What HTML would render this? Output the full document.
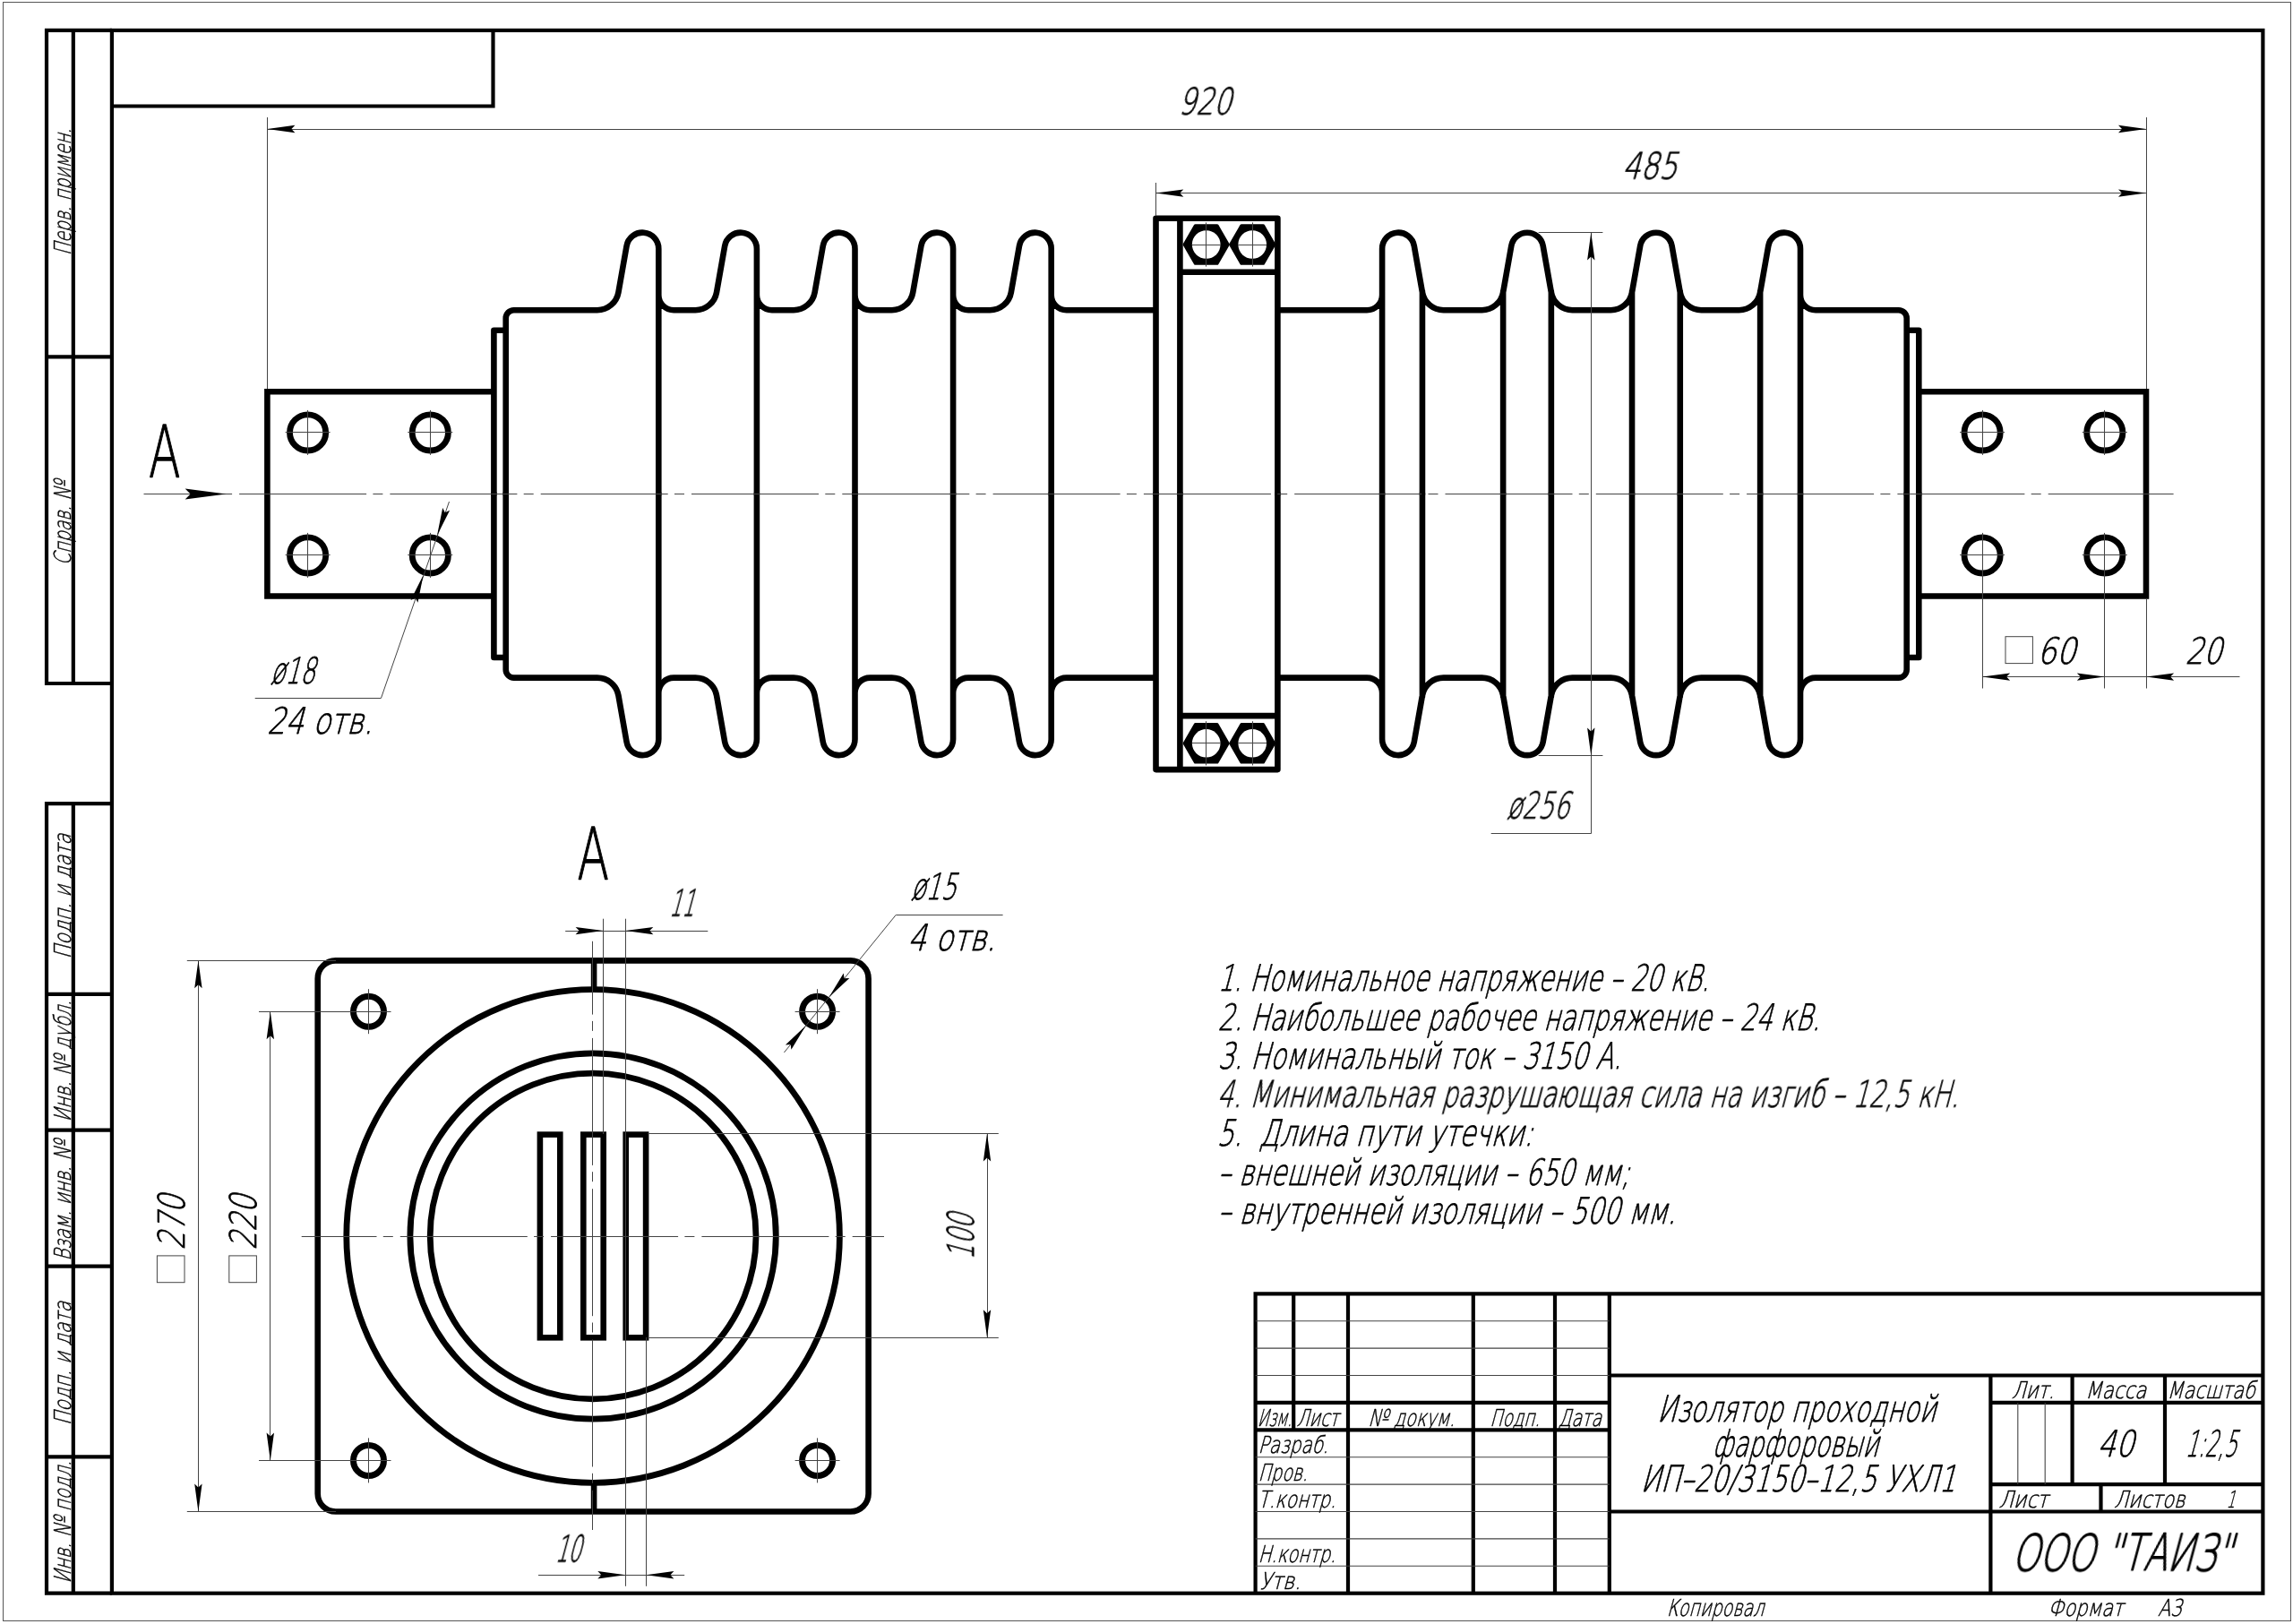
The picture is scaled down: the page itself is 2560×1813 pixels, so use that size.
<!DOCTYPE html>
<html lang="ru"><head><meta charset="utf-8"><title>Изолятор проходной фарфоровый ИП-20/3150-12,5 УХЛ1</title>
<style>
html,body{margin:0;padding:0;background:#fff;}
body{width:2560px;height:1813px;overflow:hidden;}
svg{display:block;}
text{font-family:"DejaVu Sans Light","DejaVu Sans","Liberation Sans",sans-serif;font-weight:200;fill:#000;white-space:pre;}
</style></head><body>
<svg width="2560" height="1813" viewBox="0 0 2560 1813">
<rect width="2560" height="1813" fill="#fff"/>
<rect x="3.5" y="2.5" width="2554.0" height="1807.0" fill="none" stroke="#555" stroke-width="1"/>
<rect x="124.9" y="33.9" width="2401.5" height="1744.8" fill="none" stroke="#000" stroke-width="4.2"/>
<path d="M124.9,33.9 H52 V763 H124.9 M81.8,33.9 V763 M52,398.4 H124.9" fill="none" stroke="#000" stroke-width="4.2" stroke-linecap="butt" stroke-linejoin="miter"/>
<path d="M124.9,897.2 H52 V1778.7 H124.9 M81.8,897.2 V1778.7 M52,1109.8 H124.9 M52,1261.6 H124.9 M52,1413.6 H124.9 M52,1626.4 H124.9" fill="none" stroke="#000" stroke-width="4.2" stroke-linecap="butt" stroke-linejoin="miter"/>
<path d="M124.9,118.5 H550.5 V33.9" fill="none" stroke="#000" stroke-width="4.2" stroke-linecap="butt" stroke-linejoin="miter"/>
<path d="M1401.6,1778.7 V1444.3 H2526.4 M1444.2,1444.3 V1596.3 M1505.0,1444.3 V1778.7 M1644.8,1444.3 V1778.7 M1736.0,1444.3 V1778.7 M1796.8,1444.3 V1778.7 M2222.4,1535.5 V1778.7 M1401.6,1565.9 H1796.8 M1401.6,1596.3 H1796.8 M1796.8,1535.5 H2526.4 M1796.8,1687.5 H2526.4 M2222.4,1565.9 H2526.4 M2222.4,1657.1 H2526.4 M2313.6,1535.5 V1657.1 M2417.0,1535.5 V1657.1 M2345.5,1657.1 V1687.5" fill="none" stroke="#000" stroke-width="4.2" stroke-linecap="butt" stroke-linejoin="miter"/>
<path d="M1401.6,1474.7 H1796.8 M1401.6,1505.1 H1796.8 M1401.6,1535.5 H1796.8 M1401.6,1626.7 H1796.8 M1401.6,1657.1 H1796.8 M1401.6,1687.5 H1796.8 M1401.6,1717.9 H1796.8 M1401.6,1748.3 H1796.8 M2252.8,1565.9 V1657.1 M2283.2,1565.9 V1657.1" fill="none" stroke="#444" stroke-width="1.1"/>
<path d="M564.7,551.4 V355.2 A9,9 0 0 1 573.7,346.2 H666.81 A24.0,24.0 0 0 0 690.44,326.37 L699.57,274.57 A18.0,18.0 0 0 1 735.30,277.7 V329.20 A17.0,17.0 0 0 0 752.30,346.2 H776.41 A24.0,24.0 0 0 0 800.04,326.37 L809.17,274.57 A18.0,18.0 0 0 1 844.90,277.7 V329.20 A17.0,17.0 0 0 0 861.90,346.2 H886.01 A24.0,24.0 0 0 0 909.64,326.37 L918.77,274.57 A18.0,18.0 0 0 1 954.50,277.7 V329.20 A17.0,17.0 0 0 0 971.50,346.2 H995.61 A24.0,24.0 0 0 0 1019.24,326.37 L1028.37,274.57 A18.0,18.0 0 0 1 1064.10,277.7 V329.20 A17.0,17.0 0 0 0 1081.10,346.2 H1105.21 A24.0,24.0 0 0 0 1128.84,326.37 L1137.97,274.57 A18.0,18.0 0 0 1 1173.70,277.7 V329.20 A17.0,17.0 0 0 0 1190.70,346.2 H1290.5 M1426.4,346.2 H1526.10 A17.0,17.0 0 0 0 1543.10,329.20 V277.7 A18.0,18.0 0 0 1 1578.83,274.57 L1587.96,326.37 A24.0,24.0 0 0 0 1611.59,346.2 H1654.51 A24.0,24.0 0 0 0 1678.14,326.37 L1687.27,274.57 A18.0,18.0 0 0 1 1722.73,274.57 L1731.86,326.37 A24.0,24.0 0 0 0 1755.49,346.2 H1798.41 A24.0,24.0 0 0 0 1822.04,326.37 L1831.17,274.57 A18.0,18.0 0 0 1 1866.63,274.57 L1875.76,326.37 A24.0,24.0 0 0 0 1899.39,346.2 H1941.51 A24.0,24.0 0 0 0 1965.14,326.37 L1974.27,274.57 A18.0,18.0 0 0 1 2010.00,277.7 V329.20 A17.0,17.0 0 0 0 2027.00,346.2 H2119.7 A9,9 0 0 1 2128.7,355.2 V551.4 M735.30,277.7 V551.4 M844.90,277.7 V551.4 M954.50,277.7 V551.4 M1064.10,277.7 V551.4 M1173.70,277.7 V551.4 M1543.10,325.37 V551.4 M1587.96,325.37 V551.4 M1678.14,325.37 V551.4 M1731.86,325.37 V551.4 M1822.04,325.37 V551.4 M1875.76,325.37 V551.4 M1965.14,325.37 V551.4 M2010.00,325.37 V551.4 M564.7,368.8 H551.4 V551.4 M2128.7,368.8 H2142.3 V551.4 M1290.5,551.4 V243.7 H1426.4 V551.4 M1317.4,243.7 V551.4 M1317.4,303.7 H1426.4 " fill="none" stroke="#000" stroke-width="6.6" stroke-linejoin="round" stroke-linecap="round" />
<g transform="translate(0,1102.8) scale(1,-1)">
<path d="M564.7,551.4 V355.2 A9,9 0 0 1 573.7,346.2 H666.81 A24.0,24.0 0 0 0 690.44,326.37 L699.57,274.57 A18.0,18.0 0 0 1 735.30,277.7 V329.20 A17.0,17.0 0 0 0 752.30,346.2 H776.41 A24.0,24.0 0 0 0 800.04,326.37 L809.17,274.57 A18.0,18.0 0 0 1 844.90,277.7 V329.20 A17.0,17.0 0 0 0 861.90,346.2 H886.01 A24.0,24.0 0 0 0 909.64,326.37 L918.77,274.57 A18.0,18.0 0 0 1 954.50,277.7 V329.20 A17.0,17.0 0 0 0 971.50,346.2 H995.61 A24.0,24.0 0 0 0 1019.24,326.37 L1028.37,274.57 A18.0,18.0 0 0 1 1064.10,277.7 V329.20 A17.0,17.0 0 0 0 1081.10,346.2 H1105.21 A24.0,24.0 0 0 0 1128.84,326.37 L1137.97,274.57 A18.0,18.0 0 0 1 1173.70,277.7 V329.20 A17.0,17.0 0 0 0 1190.70,346.2 H1290.5 M1426.4,346.2 H1526.10 A17.0,17.0 0 0 0 1543.10,329.20 V277.7 A18.0,18.0 0 0 1 1578.83,274.57 L1587.96,326.37 A24.0,24.0 0 0 0 1611.59,346.2 H1654.51 A24.0,24.0 0 0 0 1678.14,326.37 L1687.27,274.57 A18.0,18.0 0 0 1 1722.73,274.57 L1731.86,326.37 A24.0,24.0 0 0 0 1755.49,346.2 H1798.41 A24.0,24.0 0 0 0 1822.04,326.37 L1831.17,274.57 A18.0,18.0 0 0 1 1866.63,274.57 L1875.76,326.37 A24.0,24.0 0 0 0 1899.39,346.2 H1941.51 A24.0,24.0 0 0 0 1965.14,326.37 L1974.27,274.57 A18.0,18.0 0 0 1 2010.00,277.7 V329.20 A17.0,17.0 0 0 0 2027.00,346.2 H2119.7 A9,9 0 0 1 2128.7,355.2 V551.4 M735.30,277.7 V551.4 M844.90,277.7 V551.4 M954.50,277.7 V551.4 M1064.10,277.7 V551.4 M1173.70,277.7 V551.4 M1543.10,325.37 V551.4 M1587.96,325.37 V551.4 M1678.14,325.37 V551.4 M1731.86,325.37 V551.4 M1822.04,325.37 V551.4 M1875.76,325.37 V551.4 M1965.14,325.37 V551.4 M2010.00,325.37 V551.4 M564.7,368.8 H551.4 V551.4 M2128.7,368.8 H2142.3 V551.4 M1290.5,551.4 V243.7 H1426.4 V551.4 M1317.4,243.7 V551.4 M1317.4,303.7 H1426.4 " fill="none" stroke="#000" stroke-width="6.6" stroke-linejoin="round" stroke-linecap="round" />
</g>
<path d="M551.4,437.3 H298.4 V665.5 H551.4" fill="none" stroke="#000" stroke-width="6.6" stroke-linejoin="miter"/>
<path d="M2142.3,437.3 H2396 V665.5 H2142.3" fill="none" stroke="#000" stroke-width="6.6" stroke-linejoin="miter"/>
<circle cx="343.6" cy="482.9" r="20.1" fill="none" stroke="#000" stroke-width="6.8"/>
<line x1="318.6" y1="482.5" x2="368.6" y2="482.5" stroke="#444" stroke-width="1.0" />
<line x1="343.5" y1="457.9" x2="343.5" y2="507.9" stroke="#444" stroke-width="1.0" />
<circle cx="343.6" cy="619.9" r="20.1" fill="none" stroke="#000" stroke-width="6.8"/>
<line x1="318.6" y1="619.5" x2="368.6" y2="619.5" stroke="#444" stroke-width="1.0" />
<line x1="343.5" y1="594.9" x2="343.5" y2="644.9" stroke="#444" stroke-width="1.0" />
<circle cx="480.3" cy="482.9" r="20.1" fill="none" stroke="#000" stroke-width="6.8"/>
<line x1="455.3" y1="482.5" x2="505.3" y2="482.5" stroke="#444" stroke-width="1.0" />
<line x1="480.5" y1="457.9" x2="480.5" y2="507.9" stroke="#444" stroke-width="1.0" />
<circle cx="480.3" cy="619.9" r="20.1" fill="none" stroke="#000" stroke-width="6.8"/>
<line x1="455.3" y1="619.5" x2="505.3" y2="619.5" stroke="#444" stroke-width="1.0" />
<line x1="480.5" y1="594.9" x2="480.5" y2="644.9" stroke="#444" stroke-width="1.0" />
<circle cx="2213.1" cy="482.9" r="20.1" fill="none" stroke="#000" stroke-width="6.8"/>
<line x1="2188.1" y1="482.5" x2="2238.1" y2="482.5" stroke="#444" stroke-width="1.0" />
<line x1="2213.5" y1="457.9" x2="2213.5" y2="507.9" stroke="#444" stroke-width="1.0" />
<circle cx="2213.1" cy="619.9" r="20.1" fill="none" stroke="#000" stroke-width="6.8"/>
<line x1="2188.1" y1="619.5" x2="2238.1" y2="619.5" stroke="#444" stroke-width="1.0" />
<line x1="2213.5" y1="594.9" x2="2213.5" y2="644.9" stroke="#444" stroke-width="1.0" />
<circle cx="2349.8" cy="482.9" r="20.1" fill="none" stroke="#000" stroke-width="6.8"/>
<line x1="2324.8" y1="482.5" x2="2374.8" y2="482.5" stroke="#444" stroke-width="1.0" />
<line x1="2349.5" y1="457.9" x2="2349.5" y2="507.9" stroke="#444" stroke-width="1.0" />
<circle cx="2349.8" cy="619.9" r="20.1" fill="none" stroke="#000" stroke-width="6.8"/>
<line x1="2324.8" y1="619.5" x2="2374.8" y2="619.5" stroke="#444" stroke-width="1.0" />
<line x1="2349.5" y1="594.9" x2="2349.5" y2="644.9" stroke="#444" stroke-width="1.0" />
<polygon points="1370.9,273.0 1358.8,294.0 1334.6,294.0 1322.5,273.0 1334.6,252.0 1358.8,252.0" fill="#000" stroke="#000" stroke-width="3.6" stroke-linejoin="round"/>
<circle cx="1346.7" cy="273.0" r="15.8" fill="#fff" stroke="#000" stroke-width="0"/>
<line x1="1330.7" y1="273.5" x2="1362.7" y2="273.5" stroke="#444" stroke-width="1.0" />
<line x1="1346.5" y1="248.4" x2="1346.5" y2="297.6" stroke="#444" stroke-width="1.0" />
<polygon points="1422.4,273.0 1410.3,294.0 1386.1,294.0 1374.0,273.0 1386.1,252.0 1410.3,252.0" fill="#000" stroke="#000" stroke-width="3.6" stroke-linejoin="round"/>
<circle cx="1398.2" cy="273.0" r="15.8" fill="#fff" stroke="#000" stroke-width="0"/>
<line x1="1382.2" y1="273.5" x2="1414.2" y2="273.5" stroke="#444" stroke-width="1.0" />
<line x1="1398.5" y1="248.4" x2="1398.5" y2="297.6" stroke="#444" stroke-width="1.0" />
<polygon points="1370.9,829.8 1358.8,850.8 1334.6,850.8 1322.5,829.8 1334.6,808.8 1358.8,808.8" fill="#000" stroke="#000" stroke-width="3.6" stroke-linejoin="round"/>
<circle cx="1346.7" cy="829.8" r="15.8" fill="#fff" stroke="#000" stroke-width="0"/>
<line x1="1330.7" y1="829.5" x2="1362.7" y2="829.5" stroke="#444" stroke-width="1.0" />
<line x1="1346.5" y1="805.2" x2="1346.5" y2="854.4" stroke="#444" stroke-width="1.0" />
<polygon points="1422.4,829.8 1410.3,850.8 1386.1,850.8 1374.0,829.8 1386.1,808.8 1410.3,808.8" fill="#000" stroke="#000" stroke-width="3.6" stroke-linejoin="round"/>
<circle cx="1398.2" cy="829.8" r="15.8" fill="#fff" stroke="#000" stroke-width="0"/>
<line x1="1382.2" y1="829.5" x2="1414.2" y2="829.5" stroke="#444" stroke-width="1.0" />
<line x1="1398.5" y1="805.2" x2="1398.5" y2="854.4" stroke="#444" stroke-width="1.0" />
<line x1="160.5" y1="551.5" x2="2426.6" y2="551.5" stroke="#444" stroke-width="1.0" stroke-dasharray="142 7.3 11 8" stroke-dashoffset="61.7"/>
<polygon transform="translate(252.6,551.4) rotate(0.00)" points="0,0 -46,-6 -40,0 -46,6" fill="#000"/>
<line x1="298.5" y1="131.0" x2="298.5" y2="434.0" stroke="#444" stroke-width="1.0" />
<line x1="2396.5" y1="131.0" x2="2396.5" y2="434.0" stroke="#444" stroke-width="1.0" />
<line x1="298.4" y1="144.5" x2="2396.0" y2="144.5" stroke="#444" stroke-width="1.0" />
<polygon transform="translate(298.4,144.0) rotate(180.00)" points="0,0 -31,-4.2 -27,0 -31,4.2" fill="#000"/>
<polygon transform="translate(2396.0,144.0) rotate(0.00)" points="0,0 -31,-4.2 -27,0 -31,4.2" fill="#000"/>
<line x1="1290.5" y1="204.0" x2="1290.5" y2="241.0" stroke="#444" stroke-width="1.0" />
<line x1="1290.3" y1="215.5" x2="2396.0" y2="215.5" stroke="#444" stroke-width="1.0" />
<polygon transform="translate(1290.3,215.6) rotate(180.00)" points="0,0 -31,-4.2 -27,0 -31,4.2" fill="#000"/>
<polygon transform="translate(2396.0,215.6) rotate(0.00)" points="0,0 -31,-4.2 -27,0 -31,4.2" fill="#000"/>
<line x1="1717.7" y1="259.5" x2="1789.4" y2="259.5" stroke="#444" stroke-width="1.0" />
<line x1="1717.7" y1="843.5" x2="1789.4" y2="843.5" stroke="#444" stroke-width="1.0" />
<line x1="1776.5" y1="259.4" x2="1776.5" y2="930.7" stroke="#444" stroke-width="1.0" />
<line x1="1664.7" y1="930.5" x2="1776.3" y2="930.5" stroke="#444" stroke-width="1.0" />
<polygon transform="translate(1776.3,259.4) rotate(-90.00)" points="0,0 -31,-4.2 -27,0 -31,4.2" fill="#000"/>
<polygon transform="translate(1776.3,843.4) rotate(90.00)" points="0,0 -31,-4.2 -27,0 -31,4.2" fill="#000"/>
<line x1="2213.5" y1="595.0" x2="2213.5" y2="768.5" stroke="#444" stroke-width="1.0" />
<line x1="2349.5" y1="595.0" x2="2349.5" y2="768.5" stroke="#444" stroke-width="1.0" />
<line x1="2396.5" y1="668.0" x2="2396.5" y2="768.5" stroke="#444" stroke-width="1.0" />
<line x1="2213.1" y1="755.5" x2="2500.5" y2="755.5" stroke="#444" stroke-width="1.0" />
<polygon transform="translate(2213.1,755.6) rotate(180.00)" points="0,0 -31,-4.2 -27,0 -31,4.2" fill="#000"/>
<polygon transform="translate(2349.8,755.6) rotate(0.00)" points="0,0 -31,-4.2 -27,0 -31,4.2" fill="#000"/>
<polygon transform="translate(2396.1,755.6) rotate(180.00)" points="0,0 -31,-4.2 -27,0 -31,4.2" fill="#000"/>
<rect x="2239" y="710.7" width="30.4" height="29.9" fill="none" stroke="#444" stroke-width="1"/>
<line x1="284.7" y1="779.5" x2="425.6" y2="779.5" stroke="#444" stroke-width="1.0" />
<line x1="425.6" y1="779.0" x2="501.5" y2="560.0" stroke="#444" stroke-width="1.0" />
<polygon transform="translate(472.6,642.1) rotate(-70.89)" points="0,0 -31,-4.2 -27,0 -31,4.2" fill="#000"/>
<polygon transform="translate(488.0,597.7) rotate(109.11)" points="0,0 -31,-4.2 -27,0 -31,4.2" fill="#000"/>
<rect x="354.7" y="1072.4" width="614.9" height="615.1" rx="20" ry="20" fill="none" stroke="#000" stroke-width="6.6"/>
<circle cx="662.1" cy="1380.0" r="275.3" fill="none" stroke="#000" stroke-width="6.8"/>
<circle cx="662.1" cy="1380.0" r="204.2" fill="none" stroke="#000" stroke-width="6.8"/>
<circle cx="662.1" cy="1380.0" r="181.9" fill="none" stroke="#000" stroke-width="6.8"/>
<line x1="663.1" y1="1072.4" x2="663.1" y2="1104.7" stroke="#000" stroke-width="6.6" />
<line x1="663.1" y1="1687.5" x2="663.1" y2="1655.3" stroke="#000" stroke-width="6.6" />
<rect x="602.9" y="1266.6" width="22.4" height="226.7" fill="none" stroke="#000" stroke-width="6.6"/>
<rect x="651.3" y="1266.6" width="22.4" height="226.7" fill="none" stroke="#000" stroke-width="6.6"/>
<rect x="698.7" y="1266.6" width="22.4" height="226.7" fill="none" stroke="#000" stroke-width="6.6"/>
<circle cx="411.5" cy="1129.2" r="17.0" fill="none" stroke="#000" stroke-width="7"/>
<line x1="386.5" y1="1129.5" x2="436.5" y2="1129.5" stroke="#444" stroke-width="1.0" />
<line x1="411.5" y1="1104.2" x2="411.5" y2="1154.2" stroke="#444" stroke-width="1.0" />
<circle cx="411.5" cy="1630.4" r="17.0" fill="none" stroke="#000" stroke-width="7"/>
<line x1="386.5" y1="1630.5" x2="436.5" y2="1630.5" stroke="#444" stroke-width="1.0" />
<line x1="411.5" y1="1605.4" x2="411.5" y2="1655.4" stroke="#444" stroke-width="1.0" />
<circle cx="912.6" cy="1129.2" r="17.0" fill="none" stroke="#000" stroke-width="7"/>
<line x1="887.6" y1="1129.5" x2="937.6" y2="1129.5" stroke="#444" stroke-width="1.0" />
<line x1="912.5" y1="1104.2" x2="912.5" y2="1154.2" stroke="#444" stroke-width="1.0" />
<circle cx="912.6" cy="1630.4" r="17.0" fill="none" stroke="#000" stroke-width="7"/>
<line x1="887.6" y1="1630.5" x2="937.6" y2="1630.5" stroke="#444" stroke-width="1.0" />
<line x1="912.5" y1="1605.4" x2="912.5" y2="1655.4" stroke="#444" stroke-width="1.0" />
<line x1="336.7" y1="1380.5" x2="987.0" y2="1380.5" stroke="#444" stroke-width="1.0" stroke-dasharray="142 7.3 11 8" stroke-dashoffset="58.2"/>
<line x1="661.5" y1="1050.8" x2="661.5" y2="1708.0" stroke="#444" stroke-width="1.0" stroke-dasharray="142 7.3 11 8" stroke-dashoffset="60.2"/>
<line x1="208.8" y1="1072.5" x2="375.0" y2="1072.5" stroke="#444" stroke-width="1.0" />
<line x1="208.8" y1="1687.5" x2="375.0" y2="1687.5" stroke="#444" stroke-width="1.0" />
<line x1="221.5" y1="1072.2" x2="221.5" y2="1687.5" stroke="#444" stroke-width="1.0" />
<polygon transform="translate(221.4,1072.2) rotate(-90.00)" points="0,0 -31,-4.2 -27,0 -31,4.2" fill="#000"/>
<polygon transform="translate(221.4,1687.5) rotate(90.00)" points="0,0 -31,-4.2 -27,0 -31,4.2" fill="#000"/>
<line x1="289.0" y1="1129.5" x2="411.5" y2="1129.5" stroke="#444" stroke-width="1.0" />
<line x1="289.0" y1="1630.5" x2="411.5" y2="1630.5" stroke="#444" stroke-width="1.0" />
<line x1="301.5" y1="1129.2" x2="301.5" y2="1630.4" stroke="#444" stroke-width="1.0" />
<polygon transform="translate(301.8,1129.2) rotate(-90.00)" points="0,0 -31,-4.2 -27,0 -31,4.2" fill="#000"/>
<polygon transform="translate(301.8,1630.4) rotate(90.00)" points="0,0 -31,-4.2 -27,0 -31,4.2" fill="#000"/>
<rect x="175.4" y="1401.9" width="30.6" height="29.8" fill="none" stroke="#444" stroke-width="1"/>
<rect x="255.8" y="1401.9" width="30.6" height="29.8" fill="none" stroke="#444" stroke-width="1"/>
<line x1="723.3" y1="1265.5" x2="1114.8" y2="1265.5" stroke="#444" stroke-width="1.0" />
<line x1="723.3" y1="1493.5" x2="1114.8" y2="1493.5" stroke="#444" stroke-width="1.0" />
<line x1="1102.5" y1="1265.4" x2="1102.5" y2="1493.2" stroke="#444" stroke-width="1.0" />
<polygon transform="translate(1102.0,1265.4) rotate(-90.00)" points="0,0 -31,-4.2 -27,0 -31,4.2" fill="#000"/>
<polygon transform="translate(1102.0,1493.2) rotate(90.00)" points="0,0 -31,-4.2 -27,0 -31,4.2" fill="#000"/>
<line x1="673.5" y1="1025.7" x2="673.5" y2="1266.0" stroke="#444" stroke-width="1.0" />
<line x1="698.5" y1="1025.7" x2="698.5" y2="1770.8" stroke="#444" stroke-width="1.0" />
<line x1="631.2" y1="1039.5" x2="790.3" y2="1039.5" stroke="#444" stroke-width="1.0" />
<polygon transform="translate(673.6,1039.1) rotate(0.00)" points="0,0 -31,-4.2 -27,0 -31,4.2" fill="#000"/>
<polygon transform="translate(698.3,1039.1) rotate(180.00)" points="0,0 -31,-4.2 -27,0 -31,4.2" fill="#000"/>
<line x1="721.5" y1="1493.0" x2="721.5" y2="1770.8" stroke="#444" stroke-width="1.0" />
<line x1="601.0" y1="1758.5" x2="764.2" y2="1758.5" stroke="#444" stroke-width="1.0" />
<polygon transform="translate(698.3,1758.2) rotate(0.00)" points="0,0 -31,-4.2 -27,0 -31,4.2" fill="#000"/>
<polygon transform="translate(721.4,1758.2) rotate(180.00)" points="0,0 -31,-4.2 -27,0 -31,4.2" fill="#000"/>
<line x1="1000.4" y1="1021.5" x2="1119.6" y2="1021.5" stroke="#444" stroke-width="1.0" />
<line x1="1000.4" y1="1021.2" x2="875.4" y2="1175.0" stroke="#444" stroke-width="1.0" />
<polygon transform="translate(925.5,1113.3) rotate(129.10)" points="0,0 -31,-4.2 -27,0 -31,4.2" fill="#000"/>
<polygon transform="translate(899.7,1145.1) rotate(309.10)" points="0,0 -31,-4.2 -27,0 -31,4.2" fill="#000"/>
<g xml:space="preserve" style="opacity:0.999">
<text id="t0" transform="translate(1315.20,128.00) skewX(-15)" font-size="40.47" textLength="59.14" lengthAdjust="spacingAndGlyphs" stroke="#000" stroke-width="0.8" stroke-linejoin="round">920</text>
<text id="t1" transform="translate(1811.00,200.00) skewX(-15)" font-size="40.47" textLength="61.13" lengthAdjust="spacingAndGlyphs" stroke="#000" stroke-width="0.8" stroke-linejoin="round">485</text>
<text id="t2" transform="translate(301.80,762.80) skewX(-15)" font-size="40.47" textLength="49.64" lengthAdjust="spacingAndGlyphs" stroke="#000" stroke-width="0.8" stroke-linejoin="round">ø18</text>
<text id="t3" transform="translate(298.00,818.60) skewX(-15)" font-size="40.47" textLength="118.02" lengthAdjust="spacingAndGlyphs" stroke="#000" stroke-width="0.8" stroke-linejoin="round">24 отв.</text>
<text id="t4" transform="translate(1681.80,914.00) skewX(-15)" font-size="40.47" textLength="70.12" lengthAdjust="spacingAndGlyphs" stroke="#000" stroke-width="0.8" stroke-linejoin="round">ø256</text>
<text id="t5" transform="translate(2274.20,740.60) skewX(-15)" font-size="40.47" textLength="43.18" lengthAdjust="spacingAndGlyphs" stroke="#000" stroke-width="0.8" stroke-linejoin="round">60</text>
<text id="t6" transform="translate(2439.40,740.60) skewX(-15)" font-size="40.47" textLength="41.04" lengthAdjust="spacingAndGlyphs" stroke="#000" stroke-width="0.8" stroke-linejoin="round">20</text>
<text id="t7" transform="translate(746.80,1022.90) skewX(-15)" font-size="40.47" textLength="27.81" lengthAdjust="spacingAndGlyphs" stroke="#000" stroke-width="0.8" stroke-linejoin="round">11</text>
<text id="t8" transform="translate(1016.70,1004.20) skewX(-15)" font-size="40.47" textLength="50.54" lengthAdjust="spacingAndGlyphs" stroke="#000" stroke-width="0.8" stroke-linejoin="round">ø15</text>
<text id="t9" transform="translate(1013.30,1061.40) skewX(-15)" font-size="40.47" textLength="98.07" lengthAdjust="spacingAndGlyphs" stroke="#000" stroke-width="0.8" stroke-linejoin="round">4 отв.</text>
<text id="t10" transform="translate(619.50,1743.80) skewX(-15)" font-size="40.47" textLength="28.70" lengthAdjust="spacingAndGlyphs" stroke="#000" stroke-width="0.8" stroke-linejoin="round">10</text>
<text id="t11" transform="translate(1359.50,1105.70) skewX(-15)" font-size="40.47" textLength="548.60" lengthAdjust="spacingAndGlyphs" stroke="#000" stroke-width="0.8" stroke-linejoin="round">1. Номинальное напряжение – 20 кВ.</text>
<text id="t12" transform="translate(1359.60,1149.60) skewX(-15)" font-size="40.47" textLength="672.18" lengthAdjust="spacingAndGlyphs" stroke="#000" stroke-width="0.8" stroke-linejoin="round">2. Наибольшее рабочее напряжение – 24 кВ.</text>
<text id="t13" transform="translate(1359.60,1192.90) skewX(-15)" font-size="40.47" textLength="450.44" lengthAdjust="spacingAndGlyphs" stroke="#000" stroke-width="0.8" stroke-linejoin="round">3. Номинальный ток – 3150 А.</text>
<text id="t14" transform="translate(1358.60,1236.10) skewX(-15)" font-size="40.47" textLength="828.10" lengthAdjust="spacingAndGlyphs" stroke="#000" stroke-width="0.8" stroke-linejoin="round">4. Минимальная разрушающая сила на изгиб – 12,5 кН.</text>
<text id="t15" transform="translate(1358.60,1279.30) skewX(-15)" font-size="40.47" textLength="352.56" lengthAdjust="spacingAndGlyphs" stroke="#000" stroke-width="0.8" stroke-linejoin="round">5.  Длина пути утечки:</text>
<text id="t16" transform="translate(1359.50,1322.50) skewX(-15)" font-size="40.47" textLength="459.57" lengthAdjust="spacingAndGlyphs" stroke="#000" stroke-width="0.8" stroke-linejoin="round">– внешней изоляции – 650 мм;</text>
<text id="t17" transform="translate(1359.50,1365.80) skewX(-15)" font-size="40.47" textLength="511.30" lengthAdjust="spacingAndGlyphs" stroke="#000" stroke-width="0.8" stroke-linejoin="round">– внутренней изоляции – 500 мм.</text>
<text id="t18" transform="translate(1850.10,1587.30) skewX(-15)" font-size="40.47" textLength="311.01" lengthAdjust="spacingAndGlyphs" stroke="#000" stroke-width="0.8" stroke-linejoin="round">Изолятор проходной</text>
<text id="t19" transform="translate(1911.40,1625.80) skewX(-15)" font-size="40.47" textLength="185.52" lengthAdjust="spacingAndGlyphs" stroke="#000" stroke-width="0.8" stroke-linejoin="round">фарфоровый</text>
<text id="t20" transform="translate(1831.40,1664.90) skewX(-15)" font-size="40.47" textLength="351.91" lengthAdjust="spacingAndGlyphs" stroke="#000" stroke-width="0.8" stroke-linejoin="round">ИП–20/3150–12,5 УХЛ1</text>
<text id="t21" transform="translate(2341.60,1625.80) skewX(-15)" font-size="40.47" textLength="40.73" lengthAdjust="spacingAndGlyphs" stroke="#000" stroke-width="0.8" stroke-linejoin="round">40</text>
<text id="t22" transform="translate(2439.60,1625.80) skewX(-15)" font-size="40.47" textLength="57.27" lengthAdjust="spacingAndGlyphs" stroke="#000" stroke-width="0.8" stroke-linejoin="round">1:2,5</text>
<text id="t23" transform="translate(2245.80,1753.30) skewX(-15)" font-size="56.24" textLength="245.74" lengthAdjust="spacingAndGlyphs" stroke="#000" stroke-width="1.3" stroke-linejoin="round">ООО &quot;ТАИЗ&quot;</text>
<text id="t24" transform="translate(165.90,531.70)" font-size="80.93" textLength="35.50" lengthAdjust="spacingAndGlyphs" stroke="#000" stroke-width="1.3" stroke-linejoin="round">А</text>
<text id="t25" transform="translate(644.60,981.00)" font-size="80.93" textLength="35.50" lengthAdjust="spacingAndGlyphs" stroke="#000" stroke-width="1.3" stroke-linejoin="round">А</text>
<text id="t26" transform="translate(1403.70,1591.60) skewX(-15)" font-size="26.06" textLength="38.47" lengthAdjust="spacingAndGlyphs" stroke="#000" stroke-width="0.5" stroke-linejoin="round">Изм.</text>
<text id="t27" transform="translate(1447.40,1591.60) skewX(-15)" font-size="26.06" textLength="46.77" lengthAdjust="spacingAndGlyphs" stroke="#000" stroke-width="0.5" stroke-linejoin="round">Лист</text>
<text id="t28" transform="translate(1527.30,1591.60) skewX(-15)" font-size="26.06" textLength="96.81" lengthAdjust="spacingAndGlyphs" stroke="#000" stroke-width="0.5" stroke-linejoin="round">№ докум.</text>
<text id="t29" transform="translate(1663.20,1591.60) skewX(-15)" font-size="26.06" textLength="55.86" lengthAdjust="spacingAndGlyphs" stroke="#000" stroke-width="0.5" stroke-linejoin="round">Подп.</text>
<text id="t30" transform="translate(1739.60,1591.60) skewX(-15)" font-size="26.06" textLength="48.21" lengthAdjust="spacingAndGlyphs" stroke="#000" stroke-width="0.5" stroke-linejoin="round">Дата</text>
<text id="t31" transform="translate(1404.50,1621.80) skewX(-15)" font-size="26.06" textLength="78.45" lengthAdjust="spacingAndGlyphs" stroke="#000" stroke-width="0.5" stroke-linejoin="round">Разраб.</text>
<text id="t32" transform="translate(1404.50,1652.50) skewX(-15)" font-size="26.06" textLength="55.30" lengthAdjust="spacingAndGlyphs" stroke="#000" stroke-width="0.5" stroke-linejoin="round">Пров.</text>
<text id="t33" transform="translate(1404.30,1683.20) skewX(-15)" font-size="26.06" textLength="87.17" lengthAdjust="spacingAndGlyphs" stroke="#000" stroke-width="0.5" stroke-linejoin="round">Т.контр.</text>
<text id="t34" transform="translate(1404.50,1744.30) skewX(-15)" font-size="26.06" textLength="86.75" lengthAdjust="spacingAndGlyphs" stroke="#000" stroke-width="0.5" stroke-linejoin="round">Н.контр.</text>
<text id="t35" transform="translate(1405.90,1774.40) skewX(-15)" font-size="26.06" textLength="46.24" lengthAdjust="spacingAndGlyphs" stroke="#000" stroke-width="0.5" stroke-linejoin="round">Утв.</text>
<text id="t36" transform="translate(2245.70,1561.20) skewX(-15)" font-size="26.06" textLength="47.72" lengthAdjust="spacingAndGlyphs" stroke="#000" stroke-width="0.5" stroke-linejoin="round">Лит.</text>
<text id="t37" transform="translate(2328.00,1561.20) skewX(-15)" font-size="26.06" textLength="68.09" lengthAdjust="spacingAndGlyphs" stroke="#000" stroke-width="0.5" stroke-linejoin="round">Масса</text>
<text id="t38" transform="translate(2419.20,1561.20) skewX(-15)" font-size="26.06" textLength="98.26" lengthAdjust="spacingAndGlyphs" stroke="#000" stroke-width="0.5" stroke-linejoin="round">Масштаб</text>
<text id="t39" transform="translate(2231.40,1682.90) skewX(-15)" font-size="26.06" textLength="54.81" lengthAdjust="spacingAndGlyphs" stroke="#000" stroke-width="0.5" stroke-linejoin="round">Лист</text>
<text id="t40" transform="translate(2360.00,1682.90) skewX(-15)" font-size="26.06" textLength="79.31" lengthAdjust="spacingAndGlyphs" stroke="#000" stroke-width="0.5" stroke-linejoin="round">Листов</text>
<text id="t41" transform="translate(2485.50,1682.90) skewX(-15)" font-size="26.06" textLength="9.70" lengthAdjust="spacingAndGlyphs" stroke="#000" stroke-width="0.5" stroke-linejoin="round">1</text>
<text id="t42" transform="translate(1860.70,1804.20) skewX(-15)" font-size="26.06" textLength="108.38" lengthAdjust="spacingAndGlyphs" stroke="#000" stroke-width="0.5" stroke-linejoin="round">Копировал</text>
<text id="t43" transform="translate(2286.20,1804.20) skewX(-15)" font-size="26.06" textLength="84.06" lengthAdjust="spacingAndGlyphs" stroke="#000" stroke-width="0.5" stroke-linejoin="round">Формат</text>
<text id="t44" transform="translate(2409.00,1804.20) skewX(-15)" font-size="26.06" textLength="27.01" lengthAdjust="spacingAndGlyphs" stroke="#000" stroke-width="0.5" stroke-linejoin="round">А3</text>
<text id="t45" transform="translate(79.40,285.30) rotate(-90) skewX(-15)" font-size="26.06" textLength="141.86" lengthAdjust="spacingAndGlyphs" stroke="#000" stroke-width="0.5" stroke-linejoin="round">Перв. примен.</text>
<text id="t46" transform="translate(79.40,631.30) rotate(-90) skewX(-15)" font-size="26.06" textLength="94.75" lengthAdjust="spacingAndGlyphs" stroke="#000" stroke-width="0.5" stroke-linejoin="round">Справ. №</text>
<text id="t47" transform="translate(79.40,1070.50) rotate(-90) skewX(-15)" font-size="26.06" textLength="139.70" lengthAdjust="spacingAndGlyphs" stroke="#000" stroke-width="0.5" stroke-linejoin="round">Подп. и дата</text>
<text id="t48" transform="translate(79.40,1252.50) rotate(-90) skewX(-15)" font-size="26.06" textLength="135.80" lengthAdjust="spacingAndGlyphs" stroke="#000" stroke-width="0.5" stroke-linejoin="round">Инв. № дубл.</text>
<text id="t49" transform="translate(79.40,1407.80) rotate(-90) skewX(-15)" font-size="26.06" textLength="134.71" lengthAdjust="spacingAndGlyphs" stroke="#000" stroke-width="0.5" stroke-linejoin="round">Взам. инв. №</text>
<text id="t50" transform="translate(79.40,1591.30) rotate(-90) skewX(-15)" font-size="26.06" textLength="138.38" lengthAdjust="spacingAndGlyphs" stroke="#000" stroke-width="0.5" stroke-linejoin="round">Подп. и дата</text>
<text id="t51" transform="translate(79.40,1767.80) rotate(-90) skewX(-15)" font-size="26.06" textLength="137.11" lengthAdjust="spacingAndGlyphs" stroke="#000" stroke-width="0.5" stroke-linejoin="round">Инв. № подл.</text>
<text id="t52" transform="translate(206.00,1395.50) rotate(-90) skewX(-15)" font-size="41.15" textLength="61.35" lengthAdjust="spacingAndGlyphs" stroke="#000" stroke-width="0.8" stroke-linejoin="round">270</text>
<text id="t53" transform="translate(286.40,1395.50) rotate(-90) skewX(-15)" font-size="41.15" textLength="61.35" lengthAdjust="spacingAndGlyphs" stroke="#000" stroke-width="0.8" stroke-linejoin="round">220</text>
<text id="t54" transform="translate(1087.50,1406.70) rotate(-90) skewX(-15)" font-size="41.15" textLength="51.44" lengthAdjust="spacingAndGlyphs" stroke="#000" stroke-width="0.8" stroke-linejoin="round">100</text>
</g>
</svg>
</body></html>
